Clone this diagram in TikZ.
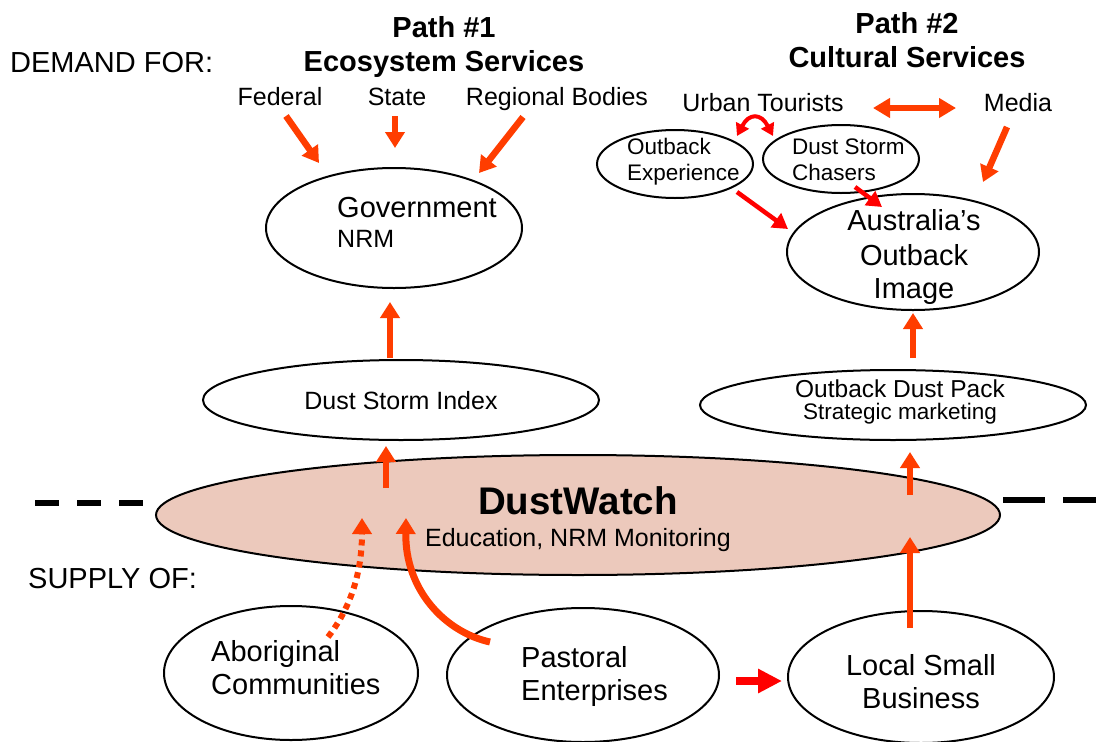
\documentclass[tikz,border=0pt]{standalone}
\usepackage{fontspec}
\setmainfont{Liberation Sans}
\usetikzlibrary{shapes.geometric,arrows.meta,calc}
\definecolor{flame}{RGB}{255,61,0}
\definecolor{alert}{RGB}{255,0,0}
\definecolor{dustfill}{RGB}{236,201,188}

\begin{document}
\begin{tikzpicture}[x=1pt,y=-1pt,
  oval/.style={draw=black, line width=2pt, ellipse, inner sep=0pt},
  lbl/.style={inner sep=0pt, anchor=base},
  lblw/.style={inner sep=0pt, anchor=base west},
  f22/.style={font=\fontsize{22.5}{26}\selectfont},
  f24/.style={font=\fontsize{24.5}{28}\selectfont},
  f25/.style={font=\fontsize{25}{30}\selectfont},
  f29/.style={font=\fontsize{29}{34}\selectfont},
  head/.style={font=\bfseries\fontsize{29}{34}\selectfont},
  flow/.style={draw=flame, line width=6.5pt, -{Triangle[width=19pt,length=16pt]}},
  redflow/.style={draw=alert, line width=4.5pt, -{Triangle[width=17pt,length=15pt]}},
]
\clip (0,0) rectangle (1096,742);
\fill[white] (0,0) rectangle (1096,742);

% ---------- ellipses ----------
\node[oval, minimum width=256pt, minimum height=120pt] (gov) at (394,228) {};
\node[oval, minimum width=396pt, minimum height=80pt]  (dsi) at (401,400) {};
\node[oval, fill=dustfill, minimum width=844pt, minimum height=120pt] (dw) at (578,515) {};
\node[oval, minimum width=386pt, minimum height=70pt]  (odp) at (893,405) {};
\node[oval, minimum width=252pt, minimum height=116pt] (aoi) at (913,252) {};
\node[oval, minimum width=156pt, minimum height=68pt]  (oe)  at (675,164) {};
\node[oval, minimum width=156pt, minimum height=68pt]  (dsc) at (841,159) {};
\node[oval, minimum width=254pt, minimum height=134pt] (abo) at (291,673) {};
\node[oval, minimum width=272pt, minimum height=134pt] (past) at (583,675) {};
\node[oval, minimum width=266pt, minimum height=132pt] (lsb) at (921,677) {};

% ---------- headings ----------
\node[lblw, font=\fontsize{29}{34}\selectfont] (demand) at (10,72) {DEMAND FOR:};
\node[lblw, f29] (supply) at (28,588) {SUPPLY OF:};
\node[lbl, head] (path1a) at (444,37) {Path \#1};
\node[lbl, head] (path1b) at (444,71) {Ecosystem Services};
\node[lbl, head] (path2a) at (907,33) {Path \#2};
\node[lbl, head] (path2b) at (907,67) {Cultural Services};

% ---------- demand side labels ----------
\node[lbl, f25] (fed)   at (280,105) {Federal};
\node[lbl, f25] (state) at (397,105) {State};
\node[lbl, f25] (reg)   at (557,105) {Regional Bodies};
\node[lbl, f25] (urb)   at (763,111) {Urban Tourists};
\node[lbl, f25] (media) at (1018,111) {Media};

% ---------- texts inside the ellipses ----------
\node[lblw, f29] (govt1) at (337,217) {Government};
\node[lblw, f25] (govt2) at (337,247) {NRM};
\node[lbl, f29] (aoit1) at (914,230) {Australia’s};
\node[lbl, f29] (aoit2) at (914,265) {Outback};
\node[lbl, f29] (aoit3) at (914,298) {Image};
\node[lblw, f22] (oet1) at (627,154) {Outback};
\node[lblw, f22] (oet2) at (627,180) {Experience};
\node[lblw, f22] (dsct1) at (792,154) {Dust Storm};
\node[lblw, f22] (dsct2) at (792,180) {Chasers};
\node[lbl, f25] (dsit) at (401,409) {Dust Storm Index};
\node[lbl, f24] (odpt1) at (900,397) {Outback Dust Pack};
\node[lbl, f22] (odpt2) at (900,419) {Strategic marketing};
\node[lbl, font=\bfseries\fontsize{38.5}{44}\selectfont] (dwt1) at (578,514) {DustWatch};
\node[lbl, f25] (dwt2) at (578,546) {Education, NRM Monitoring};
\node[lblw, f29] (abot1) at (211,661) {Aboriginal};
\node[lblw, f29] (abot2) at (211,694) {Communities};
\node[lblw, f29] (pastt1) at (521,667) {Pastoral};
\node[lblw, f29] (pastt2) at (521,700) {Enterprises};
\node[lbl, f29] (lsbt1) at (921,675) {Local Small};
\node[lbl, f29] (lsbt2) at (921,708) {Business};

% ---------- boundary between demand and supply ----------
\coordinate (dashL1) at (35,503);
\coordinate (dashL2) at (143,503);
\coordinate (dashR1) at (1003,500);
\coordinate (dashR2) at (1096,500);
\draw[line width=6pt, dash pattern=on 24pt off 18pt] (dashL1) -- (dashL2);
\draw[line width=6pt, dash pattern=on 42pt off 18pt] (dashR1) -- (dashR2);

% ---------- path 1 ----------
\draw[flow] ($(fed.base)+(6,11)$)    -- ($(gov)+(-75,-65)$);
\draw[flow] ($(state.base)+(-2,11)$) -- ($(gov)+(1,-80)$);
\draw[flow] ($(reg.base)+(-34,12)$)  -- ($(gov)+(85,-55)$);
\draw[flow] ($(dsi)+(-11,-42)$)      -- ($(gov)+(-4,74)$);
\draw[flow] ($(dw)+(-192,-27)$)      -- ($(dsi)+(-15,46)$);

% ---------- supply into DustWatch ----------
\draw[flow, line width=6pt, dash pattern=on 6pt off 5pt]
  ($(abo)+(37,-36)$) .. controls (352,606) and (362,570) .. ($(dw)+(-216,3)$);
\draw[flow, line width=7pt]
  ($(past)+(-93,-33)$) .. controls (445,632) and (405,590) .. ($(dw)+(-172,3)$);
\draw[draw=alert, line width=8pt, -{Triangle[width=23pt,length=24pt]}]
  ($(past)+(153,6)$) -- ($(lsb)+(-139,4)$);
\draw[flow] ($(lsb)+(-11,-49)$) -- ($(dw)+(332,22)$);

% ---------- path 2 ----------
\draw[flow] ($(dw)+(332,-20)$)  -- ($(odp)+(17,47)$);
\draw[flow] ($(odp)+(20,-47)$)  -- ($(aoi)+(0,61)$);
\draw[redflow] ($(oe)+(62,28)$)  -- ($(aoi)+(-125,-23)$);
\draw[redflow] ($(dsc)+(14,28)$) -- ($(aoi)+(-31,-45)$);
\draw[flow] ($(media.base)+(-11,16)$) -- ($(aoi)+(70,-70)$);
\draw[draw=flame, line width=6pt, {Triangle[width=19pt,length=17pt]}-{Triangle[width=19pt,length=17pt]}]
  ($(urb.base)+(110,-3)$) -- ($(media.base)+(-62,-3)$);
\draw[draw=alert, line width=4pt, {Triangle[width=14pt,length=12pt]}-{Triangle[width=14pt,length=12pt]}]
  ($(urb.base)+(-26,25)$) .. controls ($(urb.base)+(-14,2)$) and ($(urb.base)+(-2,2)$) .. ($(urb.base)+(10,25)$);

\end{tikzpicture}
\end{document}
